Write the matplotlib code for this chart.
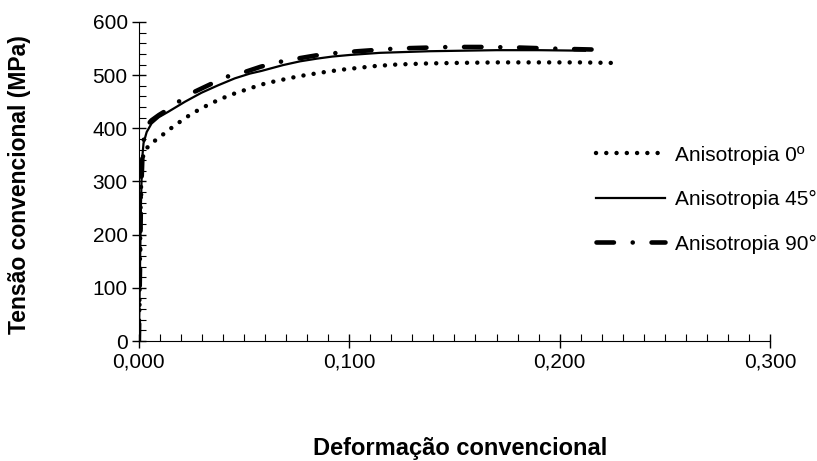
import matplotlib
matplotlib.use('Agg')
import matplotlib.pyplot as plt
from matplotlib.ticker import MultipleLocator, FuncFormatter

plt.rcParams['font.family'] = ['Liberation Sans', 'DejaVu Sans']
plt.rcParams['font.size'] = 15

# dados (deformação, tensão MPa)
def_0 = [0, 0.0004, 0.0008, 0.0013, 0.0025, 0.0052, 0.0095, 0.0135, 0.0173, 0.0212, 0.0253, 0.0295,
         0.0338, 0.0382, 0.043, 0.048, 0.0528, 0.057, 0.0618, 0.0666, 0.0712, 0.0761, 0.0807,
         0.0854, 0.0903, 0.098, 0.1027, 0.112, 0.1225, 0.137, 0.151, 0.17, 0.19, 0.21, 0.225]
ten_0 = [0, 120, 250, 335, 356, 370, 382, 395, 406, 417, 428, 437,
         446, 454, 462, 469, 475, 481, 486, 490, 494, 498, 501,
         504, 507, 511, 513, 517, 520, 522, 523, 524, 524, 524, 523]

def_45 = [0, 0.0005, 0.001, 0.0015, 0.0022, 0.0037, 0.006, 0.0095, 0.0139, 0.0219, 0.0298, 0.0377,
          0.0456, 0.0528, 0.0583, 0.0686, 0.0766, 0.0845, 0.092, 0.1003, 0.1146, 0.138, 0.17, 0.19, 0.212]
ten_45 = [0, 130, 260, 340, 372, 393, 409, 421, 431, 450, 467, 481,
          494, 503, 508, 519, 526, 531, 535, 538, 542, 545, 547, 547, 546]

def_90 = [0, 0.0005, 0.001, 0.0018, 0.0028, 0.004, 0.006, 0.0095, 0.0132, 0.0203, 0.0266, 0.0346, 0.0417,
          0.0504, 0.058, 0.067, 0.075, 0.084, 0.092, 0.104, 0.122, 0.13, 0.148, 0.165, 0.18, 0.196, 0.218]
ten_90 = [0, 130, 270, 360, 395, 406, 415, 425, 434, 454, 469, 484, 497,
          506, 516, 525, 531, 537, 541, 545, 550, 551, 553, 553, 552, 550, 548]

fig = plt.figure(figsize=(8.17, 4.61), dpi=100)
ax = fig.add_axes([0.170, 0.2603, 0.7725, 0.692])

ax.plot(def_0, ten_0, color='black', lw=3.2, linestyle=(0, (0.01, 2.3)),
        dash_capstyle='round', label='Anisotropia 0º')
ax.plot(def_45, ten_45, color='black', lw=1.6, label='Anisotropia 45°')
ax.plot(def_90, ten_90, color='black', lw=3.3, linestyle=(0, (3.8, 4.1, 0.01, 4.1)),
        dash_capstyle='round', label='Anisotropia 90°')

ax.set_xlim(0, 0.3)
ax.set_ylim(0, 600)
ax.xaxis.set_major_locator(MultipleLocator(0.1))
ax.xaxis.set_minor_locator(MultipleLocator(0.01))
ax.yaxis.set_major_locator(MultipleLocator(100))
ax.yaxis.set_minor_locator(MultipleLocator(20))
ax.xaxis.set_major_formatter(FuncFormatter(lambda v, p: ('%.3f' % v).replace('.', ',')))

ax.spines['top'].set_visible(False)
ax.spines['right'].set_visible(False)
ax.tick_params(which='major', direction='inout', length=10, width=1, labelsize=15, pad=3)
ax.tick_params(which='minor', direction='in', length=5, width=0.8)

leg = ax.legend(loc='upper left', bbox_to_anchor=(0.724, 0.612), frameon=False,
                handlelength=3.3, labelspacing=1.22, handletextpad=0.5, fontsize=15,
                borderaxespad=0, borderpad=0)

fig.text(0.563, 0.028, 'Deformação convencional', ha='center', va='center',
         fontsize=17, fontweight='bold')
fig.text(0.024, 0.6, 'Tensão convencional (MPa)', ha='center', va='center',
         rotation=90, fontsize=16.5, fontweight='bold')

fig.savefig('out.png', dpi=100)
